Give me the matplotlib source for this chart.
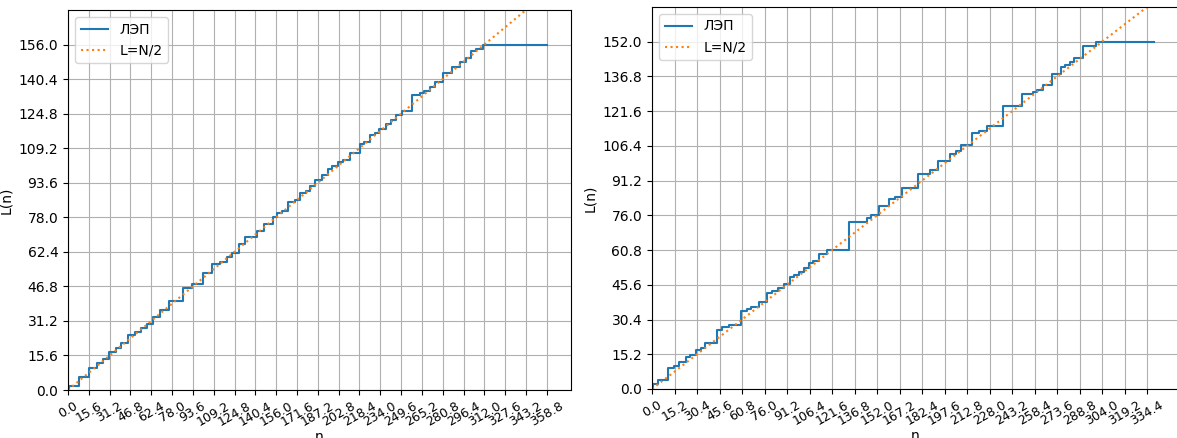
import numpy as np
import matplotlib.pyplot as plt

# левый график: точки скачков ЛЭП (n, L после скачка)
left_n = [0, 1, 8, 16, 22, 26, 31, 36, 40, 45, 50, 55, 59, 64, 69, 76, 86, 93,
          101, 108, 114, 119, 123, 128, 133, 142, 147, 154, 157, 160, 165, 170,
          174, 178, 181, 185, 190, 195, 198, 202, 206, 211, 219, 222, 226, 230,
          233, 238, 242, 246, 250, 258, 264, 267, 271, 275, 281, 288, 294, 298,
          302, 306, 311]
left_L = [0, 2, 6, 10, 12, 14, 17, 19, 21, 25, 26, 28, 30, 33, 36, 40, 46, 48,
          53, 57, 58, 60, 62, 66, 69, 72, 75, 78, 80, 81, 85, 86,
          89, 90, 92, 95, 97, 100, 101, 103, 104, 107, 111, 112, 115, 116,
          118, 120, 122, 124, 126, 133, 134, 135, 137, 139, 143, 146, 148, 150,
          153, 154, 156]
left_N = 360

# правый график
right_n = [0, 1, 4, 11, 15, 18, 23, 26, 30, 33, 36, 44, 47, 52, 60, 64, 67, 72,
           78, 81, 85, 89, 93, 96, 99, 103, 106, 109, 113, 118, 133, 145, 148,
           153, 160, 164, 169, 180, 188, 193, 201, 205, 209, 216, 221, 226, 237,
           250, 257, 260, 264, 270, 276, 279, 282, 285, 291, 300]
right_L = [0, 2, 4, 9, 10, 12, 14, 15, 17, 18, 20, 26, 27, 28, 34, 35, 36, 38,
           42, 43, 44, 46, 49, 50, 51, 53, 55, 56, 59, 61, 73, 75, 76,
           80, 83, 84, 88, 94, 96, 100, 103, 104, 107, 112, 113, 115, 124,
           129, 130, 131, 133, 138, 141, 142, 143, 145, 150, 152]
right_N = 340

fig = plt.figure(figsize=(11.77, 4.38), dpi=100)
ax1 = fig.add_axes([68 / 1177, 48 / 438, 503 / 1177, 380 / 438])
ax2 = fig.add_axes([652 / 1177, 49 / 438, 527 / 1177, 382 / 438])


def draw(ax, jn, jl, N):
    x = np.array(jn + [N - 1])
    y = np.array(jl + [jl[-1]])
    ax.step(x, y, where='post', label='ЛЭП')
    n = np.arange(N)
    ax.plot(n, n / 2, ':', label='L=N/2')
    Lmax = max(jl)
    step = Lmax / 10
    ax.set_xticks(np.arange(0, N, step))
    ax.set_yticks(np.arange(0, Lmax + step / 2, step))
    ax.set_xlim(0, (N - 1) * 1.05)
    ax.set_ylim(0, Lmax * 1.1)
    ax.tick_params(axis='x', labelrotation=30, labelsize=9)
    ax.set_xlabel('n', labelpad=1)
    ax.set_ylabel('L(n)')
    ax.grid(True)
    ax.legend(loc='upper left')


draw(ax1, left_n, left_L, left_N)
draw(ax2, right_n, right_L, right_N)

plt.savefig('out.png', dpi=100)
